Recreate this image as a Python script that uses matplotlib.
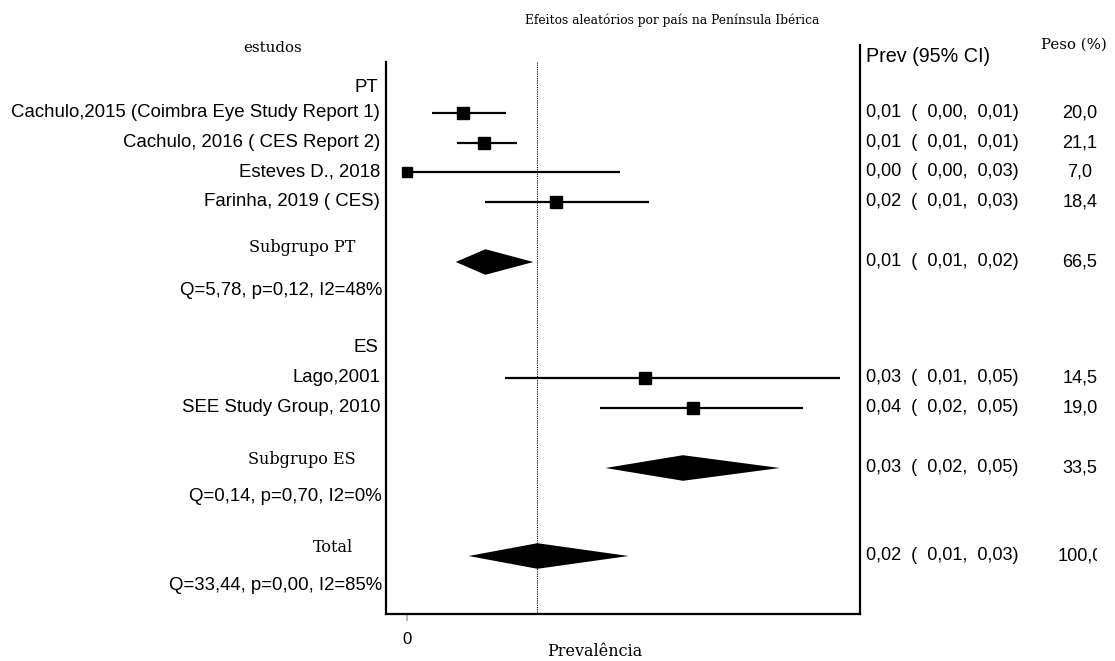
import matplotlib.pyplot as plt
from matplotlib.transforms import blended_transform_factory

# ===============================
# DADOS
# ===============================
studies = ["Cachulo,2015 (Coimbra Eye Study Report 1)", "Cachulo, 2016 ( CES Report 2)",
           "Esteves D., 2018", "Farinha, 2019 ( CES)", "Lago,2001", "SEE Study Group, 2010"]
est = [0.0070, 0.0096, 0.0000, 0.0186, 0.0298, 0.0358]
lo = [0.0031, 0.0062, 0.0000, 0.0098, 0.0122, 0.0241]
hi = [0.0124, 0.0138, 0.0266, 0.0303, 0.0541, 0.0495]
weight = [20.0, 21.1, 7.0, 18.4, 14.5, 19.0]

groups = ["PT", "ES"]
group_labels = ["Subgrupo PT", "Subgrupo ES"]
group_est = [0.0098, 0.0345]
group_lo = [0.0061, 0.0248]
group_hi = [0.0158, 0.0466]
group_weight = [66.5, 33.5]
group_het = ["Q=5,78, p=0,12, I2=48%", "Q=0,14, p=0,70, I2=0%"]

total_est, total_lo, total_hi, total_weight = 0.0163, 0.0077, 0.0277, 100.0
total_het = "Q=33,44, p=0,00, I2=85%"

# ===============================
# LAYOUT
# ===============================
W, H = 1115, 661
row_px = 29.75
y0_px = 113


def row(px):
    return (px - y0_px) / row_px


def fmt(v):
    return f"{v:.2f}".replace(".", ",")


def fmt_w(v):
    return f"{v:.1f}".replace(".", ",")


def ci_text(e, l, h):
    return f"{fmt(e)}  (  {fmt(l)},  {fmt(h)})"


sans = "Liberation Sans"
serif = "DejaVu Serif"
fs_left = 13.4
fs_right = 13.1

fig = plt.figure(figsize=(W / 100, H / 100), dpi=100)
ax = fig.add_axes([386 / W, 1 - 614 / H, (860 - 386) / W, (614 - 45) / H])
ax.set_xlim((386 - 407) / 8000, (860 - 407) / 8000)
ax.set_ylim(row(614), row(45))

# eixo auxiliar para as colunas da direita (corta o texto como no original)
axr = fig.add_axes([862 / W, 1 - 614 / H, (1097 - 862) / W, (614 - 45) / H], sharey=ax)
axr.set_xlim(862, 1097)
axr.axis("off")

tl = blended_transform_factory(fig.transFigure, ax.transData)

study_rows = [row(113), row(143), row(172), row(202), row(378), row(408)]
header_rows = [row(88), row(348)]
diamond_rows = [row(262), row(468)]
sublabel_rows = [row(248), row(460)]
het_rows = [row(291), row(497)]
total_row = row(556)


def right_cols(y, e, l, h, w):
    axr.text(866, y, ci_text(e, l, h), ha="left", va="center",
             fontsize=fs_right, family=sans, clip_on=True)
    axr.text(1080, y, fmt_w(w), ha="center", va="center",
             fontsize=fs_right, family=sans, clip_on=True)


def diamond(e, l, h, y, half=0.43):
    ax.fill([l, e, h, e], [y, y - half, y, y + half], color="black", lw=0)


# estudos individuais
for i, name in enumerate(studies):
    y = study_rows[i]
    ax.plot([lo[i], hi[i]], [y, y], color="black", lw=1.6, solid_capstyle="butt")
    ms = 6.5 if weight[i] < 10 else 8
    ax.plot(est[i], y, marker="s", color="black", ms=ms)
    ax.text(380 / W, y, name, transform=tl, ha="right", va="center",
            fontsize=fs_left, family=sans)
    right_cols(y, est[i], lo[i], hi[i], weight[i])

# subgrupos
for g in range(len(groups)):
    ax.text(378 / W, header_rows[g], groups[g], transform=tl, ha="right", va="center",
            fontsize=fs_left, family=sans)
    diamond(group_est[g], group_lo[g], group_hi[g], diamond_rows[g])
    ax.text(302 / W, sublabel_rows[g], group_labels[g], transform=tl, ha="center",
            va="center", fontsize=11.5, family=serif)
    ax.text(382 / W, het_rows[g], group_het[g], transform=tl, ha="right", va="center",
            fontsize=fs_left, family=sans)
    right_cols(diamond_rows[g], group_est[g], group_lo[g], group_hi[g], group_weight[g])

# total
diamond(total_est, total_lo, total_hi, total_row)
ax.text(333 / W, row(548), "Total", transform=tl, ha="center", va="center",
        fontsize=11.5, family=serif)
ax.text(382 / W, row(585), total_het, transform=tl, ha="right", va="center",
        fontsize=fs_left, family=sans)
right_cols(total_row, total_est, total_lo, total_hi, total_weight)

# linha do efeito global
ax.plot([total_est, total_est], [row(62), row(614)], color="black", lw=0.8, ls=(0, (1, 1)))

# eixos
ax.spines["top"].set_visible(False)
for s in ["left", "right", "bottom"]:
    ax.spines[s].set_linewidth(1.6)
ax.spines["left"].set_bounds(row(614), row(62))
ax.set_yticks([])
ax.set_xticks([0])
ax.set_xticklabels(["0"], fontsize=12, family=sans)
ax.tick_params(axis="x", length=5, color="#aaaaaa", width=1.2, pad=8)

# textos
fig.text(672 / W, 1 - 20 / H, "Efeitos aleatórios por país na Península Ibérica",
         ha="center", va="center", fontsize=8.8, family=serif)
fig.text(273 / W, 1 - 48 / H, "estudos", ha="center", va="center", fontsize=10.8, family=serif)
fig.text(866 / W, 1 - 57 / H, "Prev (95% CI)", ha="left", va="center", fontsize=14.2, family=sans)
fig.text(1074 / W, 1 - 45 / H, "Peso (%)", ha="center", va="center", fontsize=10.8, family=serif)
fig.text(595 / W, 1 - 652 / H, "Prevalência", ha="center", va="center", fontsize=11.5, family=serif)

fig.savefig("out.png", dpi=100)
